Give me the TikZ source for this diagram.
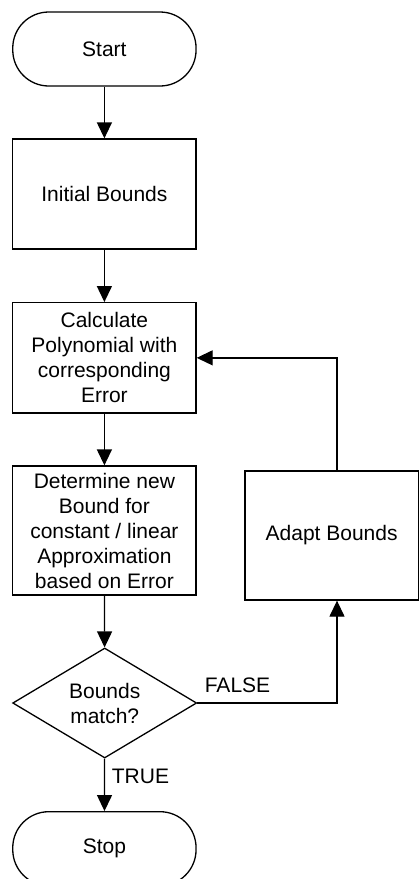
\documentclass[tikz,border=0pt]{standalone}
\usepackage{fontspec}
\setmainfont{Liberation Sans}
\usetikzlibrary{arrows.meta,shapes.geometric}
\begin{document}
\begin{tikzpicture}[x=1pt,y=-1pt,
  line width=1.3pt,
  every node/.style={font=\fontsize{21}{25}\selectfont, align=center, inner sep=0pt},
  proc/.style={draw, rectangle, minimum width=183.3pt},
  term/.style={draw, rectangle, rounded corners=36pt, minimum width=183.3pt, minimum height=74pt},
  decide/.style={draw, diamond, aspect=1.67, minimum width=184pt, minimum height=110pt},
  arr/.style={-{Triangle[width=15pt,length=16pt]}},
  lbl/.style={font=\fontsize{21}{25}\selectfont}
]
\clip (0,0) rectangle (420,879);
\fill[white] (0,0) rectangle (420,879);

% main column
\node[term] (start) at (104.4,49) {Start};
\node[proc, minimum height=110pt] (init) at (104.4,194) {Initial Bounds};
\node[proc, minimum height=110.3pt] (calc) at (104.4,357.85) {Calculate\\Polynomial with\\corresponding\\Error};
\node[proc, minimum height=129pt] (det) at (104.4,530.5) {Determine new\\Bound for\\constant / linear\\Approximation\\based on Error};
\node[decide] (dec) at (104.7,703) {Bounds\\match?};
\node[term] (stop) at (104.4,848.7) {Stop};

% side branch
\node[proc, minimum width=173.3pt, minimum height=129pt] (adapt) at (331.65,535.5) {Adapt Bounds};
\coordinate (loopx) at (337,0);

% connectors
\draw[arr] (start) -- (init);
\draw[arr] (init) -- (calc);
\draw[arr] (calc) -- (det);
\draw[arr] (det) -- (dec);
\draw[arr] (dec) -- (stop);
\draw[arr] (dec.east) -| (adapt.south -| loopx);
\draw[arr] (adapt.north -| loopx) |- (calc.east);

% branch labels
\node[lbl] (lfalse) at (237.5,685) {FALSE};
\node[lbl] (ltrue) at (140.5,776) {TRUE};
\end{tikzpicture}
\end{document}
